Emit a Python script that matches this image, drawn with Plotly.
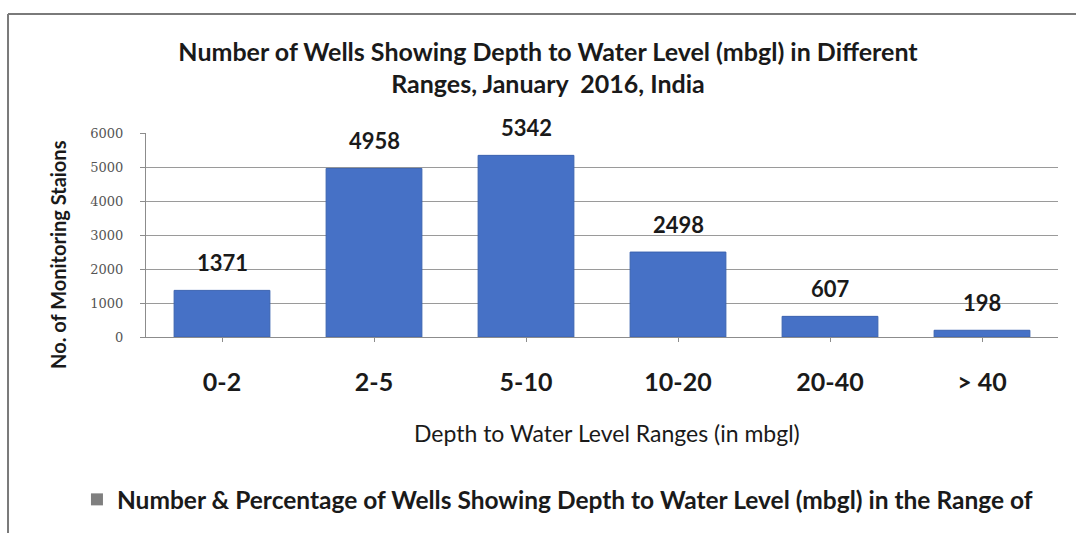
import plotly.graph_objects as go

categories = ["0-2", "2-5", "5-10", "10-20", "20-40", "> 40"]
wells = [1371, 4958, 5342, 2498, 607, 198]
y_ticks = [0, 1000, 2000, 3000, 4000, 5000, 6000]
y_tick_labels = ["0", "1000", "2000", "3000", "4000", "5000", "6000"]
legend_name = "Number & Percentage of Wells Showing Depth to Water Level (mbgl) in the Range of"
title_text = "Number of Wells Showing Depth to Water Level (mbgl) in Different<br>Ranges, January  2016, India"
x_title = "Depth to Water Level Ranges (in mbgl)"
y_title = "No. of Monitoring Staions"

FONT = "Lato"

fig = go.Figure()
fig.add_trace(go.Bar(
    x=categories, y=wells,
    marker=dict(color="#4671c6", line=dict(color="#3a62b0", width=1)),
    width=0.63,
    showlegend=False,
))
fig.add_trace(go.Scatter(
    x=[None], y=[None], mode="markers",
    marker=dict(symbol="square", color="#7f7f7f", size=11),
    name=legend_name, showlegend=True,
))

annotations = [
    dict(x=c, y=v, xref="x", yref="y", text=str(v), showarrow=False,
         yanchor="bottom", yshift=12,
         font=dict(family=FONT, size=22, color="#1a1a1a", weight="bold"))
    for c, v in zip(categories, wells)
]
annotations.append(dict(
    x=0.5055, y=-0.47, xref="paper", yref="paper", text=x_title, showarrow=False,
    xanchor="center", yanchor="middle",
    font=dict(family=FONT, size=23, color="#1a1a1a")))
annotations.append(dict(
    x=-0.0965, y=0.407, xref="paper", yref="paper", text=y_title, showarrow=False,
    textangle=-90, xanchor="center", yanchor="middle",
    font=dict(family=FONT, size=20, color="#1a1a1a", weight="bold")))

fig.update_layout(
    width=1076, height=533,
    paper_bgcolor="white", plot_bgcolor="white",
    margin=dict(l=146, r=18, t=133, b=196, autoexpand=False),
    title=dict(text=title_text, x=548 / 1076, xanchor="center", xref="container",
               y=1 - 60.5 / 533, yanchor="middle", yref="container",
               font=dict(family=FONT, size=25, color="#1a1a1a", weight="bold")),
    font=dict(family=FONT),
    annotations=annotations,
    legend=dict(orientation="h", x=-0.0757, xanchor="left", y=-0.686, yanchor="top",
                font=dict(family=FONT, size=24.5, color="#1a1a1a", weight="bold"),
                itemsizing="constant"),
    xaxis=dict(
        type="category",
        showline=True, linecolor="#8c8c8c", linewidth=1,
        ticks="outside", ticklen=4, tickcolor="#8c8c8c",
        tickfont=dict(family=FONT, size=25, color="#1a1a1a", weight="bold"),
        ticklabelstandoff=19,
    ),
    yaxis=dict(
        range=[0, 6000], tickvals=y_ticks, ticktext=y_tick_labels,
        showgrid=True, gridcolor="#9a9a9a", gridwidth=1,
        showline=True, linecolor="#8c8c8c", linewidth=1,
        ticks="outside", ticklen=5, tickcolor="#8c8c8c",
        tickfont=dict(family="DejaVu Serif", size=13, color="#555555"),
        ticklabelstandoff=14,
        zeroline=False,
    ),
    shapes=[
        dict(type="line", xref="paper", yref="paper", x0=-0.1513, x1=1.03, y0=1.583, y1=1.583,
             line=dict(color="#7a7a7a", width=2)),
        dict(type="line", xref="paper", yref="paper", x0=-0.1513, x1=-0.1513, y0=1.583, y1=-0.98,
             line=dict(color="#7a7a7a", width=2)),
    ],
)

fig.write_html("out.html", config={"displayModeBar": False},
               post_script="document.body.style.margin='0';document.body.style.overflow='hidden';")
